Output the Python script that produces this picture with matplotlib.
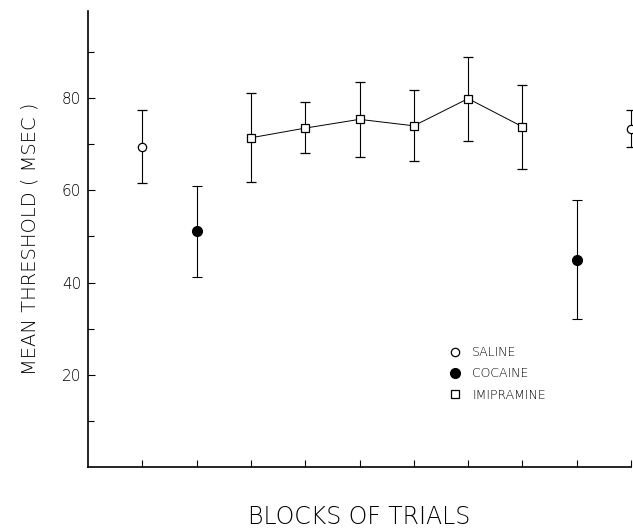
#!/usr/bin/env python3

import numpy as np
import matplotlib.pyplot as plt
from matplotlib.lines import Line2D

# mean threshold (msec) per block, with error bar ends
saline_blocks = [1, 10]
saline_mean = [69.5, 73.3]
saline_low = [61.7, 69.3]
saline_high = [77.4, 77.4]

cocaine_blocks = [2, 9]
cocaine_mean = [51.1, 45.0]
cocaine_low = [41.1, 32.0]
cocaine_high = [60.9, 58.0]

imip_blocks = [3, 4, 5, 6, 7, 8]
imip_mean = [71.4, 73.5, 75.4, 74.0, 79.9, 73.8]
imip_low = [61.8, 68.0, 67.3, 66.3, 70.7, 64.6]
imip_high = [81.1, 79.1, 83.6, 81.8, 89.0, 82.9]

y_major = [20, 40, 60, 80]
y_minor = [10, 30, 50, 70, 90]
x_ticks = [1, 2, 3, 4, 5, 6, 7, 8, 9, 10]


def err(mean, low, high):
    mean = np.array(mean)
    return [mean - np.array(low), np.array(high) - mean]


fig = plt.figure(figsize=(6.33, 5.31), dpi=100)
ax = fig.add_axes([88 / 633, 1 - 467 / 531, 543 / 633, 456 / 531])

ebkw = dict(ecolor='black', elinewidth=0.8, capsize=3.5, capthick=0.8,
            clip_on=False, zorder=3)

ax.errorbar(saline_blocks, saline_mean, yerr=err(saline_mean, saline_low, saline_high),
            fmt='o', ms=6, mfc='white', mec='black', mew=0.9, **ebkw)
ax.errorbar(cocaine_blocks, cocaine_mean, yerr=err(cocaine_mean, cocaine_low, cocaine_high),
            fmt='o', ms=7, mfc='black', mec='black', **ebkw)
ax.errorbar(imip_blocks, imip_mean, yerr=err(imip_mean, imip_low, imip_high),
            fmt='-s', color='black', lw=0.7, ms=6, mfc='white', mec='black',
            mew=0.9, **ebkw)

ax.set_xlim(0, 10)
ax.set_ylim(0, 98.9)
ax.set_xticks(x_ticks)
ax.set_xticklabels([])
ax.set_yticks(y_major)
ax.set_yticks(y_minor, minor=True)
ax.set_yticklabels([str(v) for v in y_major], fontsize=11, color='black',
                   fontweight='light')
ax.tick_params(axis='y', which='major', direction='in', length=5, width=0.8, pad=5)
ax.tick_params(axis='y', which='minor', direction='in', length=4, width=0.8)
ax.tick_params(axis='x', direction='in', length=5, width=0.8)

for side in ['top', 'right']:
    ax.spines[side].set_visible(False)
for side in ['left', 'bottom']:
    ax.spines[side].set_linewidth(1.2)

ax.set_ylabel('MEAN THRESHOLD ( MSEC )', fontsize=14, fontweight='light',
              color='black', labelpad=16)
ax.set_xlabel('BLOCKS OF TRIALS', fontsize=17, fontweight='light',
              color='black', labelpad=24)

handles = [
    Line2D([], [], ls='none', marker='o', ms=6, mfc='white', mec='black', mew=0.9),
    Line2D([], [], ls='none', marker='o', ms=7, mfc='black', mec='black'),
    Line2D([], [], ls='none', marker='s', ms=6, mfc='white', mec='black', mew=0.9),
]
ax.legend(handles, ['SALINE', 'COCAINE', 'IMIPRAMINE'], loc='upper left',
          bbox_to_anchor=(0.643, 0.29), frameon=False,
          prop={'size': 9, 'weight': 'light'},
          handletextpad=0.9, labelspacing=0.75, handlelength=1.0)

fig.savefig('out.png', dpi=100)
